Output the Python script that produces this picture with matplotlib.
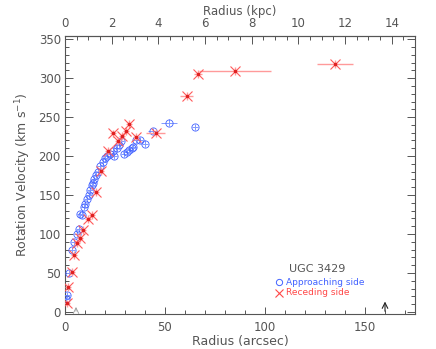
import numpy as np
import matplotlib
matplotlib.use("Agg")
import matplotlib.pyplot as plt
from matplotlib.ticker import MultipleLocator, FixedLocator

# approaching side (blue circles): radius (arcsec), velocity (km/s), errors
r_app = [0.5, 0.8, 2.0, 3.7, 4.5, 6.0, 7.2, 7.5, 8.7, 9.5, 10.2, 11.2, 11.8, 12.5,
         13.3, 13.8, 14.7, 15.5, 16.3, 17.5, 18.8, 20.0, 21.0, 22.5, 23.8, 24.5,
         25.8, 27.0, 28.0, 29.5, 30.8, 32.0, 33.3, 34.0, 35.5, 37.5, 40.0, 43.8,
         52.0, 65.0]
v_app = [17, 22, 50, 80, 90, 100, 107, 126, 125, 135, 139, 145, 150, 156,
         163, 166, 171, 176, 180, 187, 193, 197, 200, 203, 206, 200,
         210, 214, 219, 203, 205, 208, 210, 212, 221, 221, 216, 232,
         243, 237]
rerr_app = [1.5] * 37 + [2.5, 4.0, 1.5]
verr_app = [4] * 40

# receding side (red crosses)
r_rec = [0.8, 1.7, 3.5, 4.7, 5.8, 7.5, 9.2, 11.3, 13.3, 15.3, 17.8, 21.3, 24.2,
         26.7, 28.3, 30.3, 32.2, 35.5, 45.3, 60.8, 66.7, 85.0, 135.0]
v_rec = [11, 32, 51, 73, 88, 95, 105, 119, 124, 154, 181, 207, 229,
         219, 226, 232, 241, 225, 230, 277, 305, 309, 318]
rerr_rec = [1.5] * 18 + [4.8, 3.3, 2.0, 18.0, 9.0]
verr_rec = [5] * 23

kpc_ticks = [0, 2, 4, 6, 8, 10, 12, 14]
kpc_per_arcsec = 0.0857
grey = '#555555'
blue = '#4262ff'
red = '#ff4848'

fig = plt.figure(figsize=(4.36, 3.49), dpi=100)
ax = fig.add_axes([65 / 436, 1 - 314 / 349, 350 / 436, 278 / 349])

ax.errorbar(r_app, v_app, xerr=rerr_app, yerr=verr_app, fmt='o', ms=5.2,
            mfc='none', mec=blue, mew=0.6, ecolor='#8098ff', elinewidth=0.7,
            capsize=0, zorder=3)
ax.errorbar(r_rec, v_rec, xerr=rerr_rec, yerr=verr_rec, fmt='x', ms=6.5,
            mec='#ff5a5a', mew=0.8, ecolor='#ff9a9a', elinewidth=1.0,
            capsize=0, zorder=4)
ax.plot(r_rec, v_rec, 's', ms=1.5, color='#e02020', zorder=5)

# arrows marking radii
ax.annotate('', xy=(160, 17), xytext=(160, -2.5),
            arrowprops=dict(arrowstyle='->', color='#222222', lw=0.8))
ax.annotate('', xy=(5.5, 10), xytext=(5.5, -2.5),
            arrowprops=dict(arrowstyle='->', color='#999999', lw=0.6))

# legend text
ax.text(126, 55, 'UGC 3429', color=grey, fontsize=8, ha='center', va='center')
ax.plot([107.2], [38], 'o', ms=4.5, mfc='none', mec=blue, mew=0.7)
ax.text(110.5, 38, 'Approaching side', color=blue, fontsize=6.5, va='center')
ax.plot([107.2], [24.7], 'x', ms=5.5, mec=red, mew=0.8)
ax.text(110.5, 24.7, 'Receding side', color=red, fontsize=6.5, va='center')

ax.set_xlim(0, 175)
ax.set_ylim(-2.5, 354)
ax.set_xlabel('Radius (arcsec)', color=grey, fontsize=9, labelpad=1)
ax.set_ylabel('Rotation Velocity (km s$^{-1}$)', color=grey, fontsize=9,
              labelpad=4)

ax.xaxis.set_major_locator(MultipleLocator(50))
ax.xaxis.set_minor_locator(MultipleLocator(10))
ax.yaxis.set_major_locator(MultipleLocator(50))
ax.yaxis.set_minor_locator(MultipleLocator(10))
ax.tick_params(which='both', direction='in', top=False, right=True,
               color=grey, labelcolor=grey, labelsize=8.5, width=0.7)
ax.tick_params(axis='x', which='major', length=5, pad=5)
ax.tick_params(axis='y', which='major', length=6, pad=3)
ax.tick_params(which='minor', length=3)
for s in ax.spines.values():
    s.set_color(grey)
    s.set_linewidth(0.8)

sec = ax.secondary_xaxis('top', functions=(lambda r: r * kpc_per_arcsec,
                                           lambda k: k / kpc_per_arcsec))
sec.xaxis.set_major_locator(FixedLocator(kpc_ticks))
sec.xaxis.set_minor_locator(FixedLocator(np.arange(0, 15.01, 0.5)))
sec.tick_params(which='both', direction='in', color=grey, labelcolor=grey,
                labelsize=8.5, width=0.7, pad=4)
sec.tick_params(which='major', length=6)
sec.tick_params(which='minor', length=3)
sec.spines['top'].set_color(grey)
sec.set_xlabel('Radius (kpc)', color=grey, fontsize=8.5, labelpad=2)

fig.savefig('out.png', dpi=100)
